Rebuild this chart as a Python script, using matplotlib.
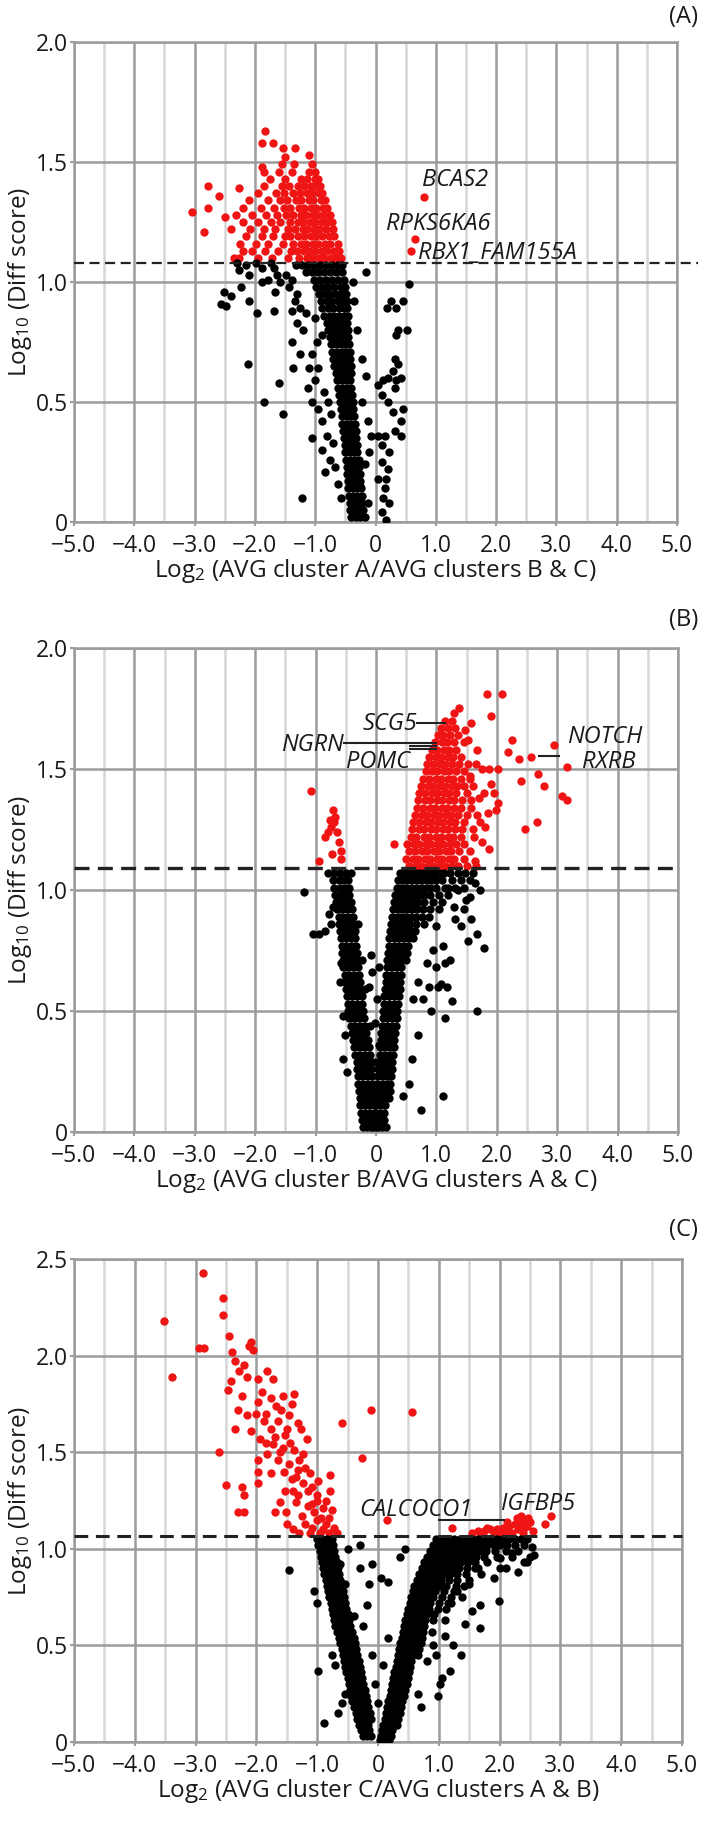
import numpy as np
import matplotlib
matplotlib.use("Agg")
import matplotlib.pyplot as plt

plt.rcParams['font.family'] = ['Open Sans', 'DejaVu Sans']
plt.rcParams['mathtext.default'] = 'regular'

# ---------------- panel A ----------------
# dense parts are typed row by row: (y, [x, x, ...])
a_red_rows = [
    (1.10, [-2.35, -2.27, -1.95, -1.72, -1.45, -1.27, -1.14, -1.06, -0.94, -0.86, -0.74, -0.66, -0.57]),
    (1.13, [-2.20, -2.05, -1.83, -1.62, -1.40, -1.31, -1.19, -1.11, -1.01, -0.89, -0.81, -0.69, -0.60]),
    (1.16, [-2.25, -1.98, -1.78, -1.53, -1.36, -1.24, -1.16, -1.04, -0.96, -0.84, -0.76, -0.63]),
    (1.19, [-2.15, -1.88, -1.70, -1.50, -1.41, -1.28, -1.19, -1.07, -0.98, -0.89, -0.77, -0.68]),
    (1.22, [-2.40, -2.08, -1.85, -1.66, -1.45, -1.33, -1.21, -1.13, -1.02, -0.93, -0.82, -0.71]),
    (1.25, [-2.20, -1.95, -1.74, -1.58, -1.42, -1.29, -1.21, -1.09, -1.01, -0.89, -0.81, -0.72]),
    (1.28, [-2.32, -2.05, -1.82, -1.63, -1.48, -1.36, -1.24, -1.16, -1.04, -0.96, -0.85, -0.76]),
    (1.31, [-2.20, -1.90, -1.69, -1.52, -1.41, -1.27, -1.19, -1.07, -0.99, -0.87, -0.80]),
    (1.34, [-2.10, -1.78, -1.58, -1.46, -1.32, -1.23, -1.11, -1.03, -0.91, -0.84]),
    (1.37, [-1.95, -1.65, -1.51, -1.37, -1.26, -1.14, -1.06, -0.94, -0.88]),
    (1.40, [-1.85, -1.55, -1.43, -1.29, -1.19, -1.07, -0.99, -0.92]),
    (1.43, [-1.75, -1.50, -1.24, -1.13, -1.01, -0.95]),
    (1.46, [-1.85, -1.60, -1.39, -1.11, -1.00]),
    (1.49, [-1.55, -1.35, -1.05]),
]
a_red_pts = [
    (-3.04, 1.29), (-2.78, 1.40), (-2.78, 1.31), (-2.84, 1.21), (-2.60, 1.36),
    (-2.27, 1.39), (-2.50, 1.27), (-1.83, 1.63), (-1.88, 1.58), (-1.70, 1.58),
    (-1.54, 1.56), (-1.33, 1.56), (-1.11, 1.53), (-1.88, 1.48), (-1.50, 1.52),
    (0.80, 1.356), (0.65, 1.18), (0.59, 1.13),
]
a_black_rows = [
    (1.07, [-1.32, -1.22, -1.12, -1.02, -0.92, -0.82, -0.72, -0.62, -0.55]),
    (1.04, [-1.15, -1.05, -0.95, -0.85, -0.75, -0.65, -0.56]),
    (1.01, [-1.02, -0.92, -0.82, -0.72, -0.62, -0.53]),
    (0.98, [-0.98, -0.88, -0.78, -0.68, -0.58, -0.50]),
    (0.95, [-0.93, -0.84, -0.75, -0.66, -0.57, -0.49]),
    (0.92, [-0.90, -0.81, -0.72, -0.63, -0.55, -0.48]),
    (0.89, [-0.88, -0.79, -0.70, -0.61, -0.53, -0.47]),
    (0.86, [-0.85, -0.76, -0.68, -0.60, -0.52, -0.46]),
    (0.83, [-0.80, -0.72, -0.64, -0.56, -0.48]),
    (0.80, [-0.78, -0.70, -0.62, -0.54, -0.46]),
    (0.77, [-0.76, -0.68, -0.60, -0.52, -0.45]),
    (0.74, [-0.74, -0.66, -0.58, -0.50, -0.44]),
    (0.71, [-0.72, -0.64, -0.56, -0.49, -0.43]),
    (0.68, [-0.70, -0.62, -0.54, -0.47, -0.42]),
    (0.65, [-0.68, -0.60, -0.53, -0.46, -0.41]),
    (0.62, [-0.66, -0.58, -0.51, -0.44, -0.40]),
    (0.59, [-0.64, -0.56, -0.49, -0.42]),
    (0.56, [-0.62, -0.55, -0.48, -0.41]),
    (0.53, [-0.60, -0.53, -0.46, -0.39]),
    (0.50, [-0.59, -0.52, -0.45, -0.38]),
    (0.47, [-0.58, -0.51, -0.44, -0.37]),
    (0.44, [-0.56, -0.49, -0.42, -0.36]),
    (0.41, [-0.55, -0.48, -0.41, -0.34]),
    (0.38, [-0.54, -0.47, -0.40, -0.33]),
    (0.35, [-0.52, -0.45, -0.38, -0.32]),
    (0.32, [-0.51, -0.44, -0.37, -0.31]),
    (0.29, [-0.50, -0.43, -0.36, -0.30]),
    (0.26, [-0.49, -0.42, -0.35, -0.28]),
    (0.23, [-0.48, -0.41, -0.34, -0.27]),
    (0.20, [-0.47, -0.40, -0.33, -0.26]),
    (0.17, [-0.46, -0.39, -0.32, -0.25]),
    (0.14, [-0.45, -0.38, -0.31, -0.24]),
    (0.11, [-0.44, -0.37, -0.30, -0.23]),
    (0.08, [-0.43, -0.36, -0.29, -0.22]),
    (0.05, [-0.42, -0.35, -0.28, -0.20]),
    (0.02, [-0.40, -0.33, -0.26, -0.18]),
]
a_black_pts = [
    (-2.30, 1.08), (-2.26, 1.05), (-2.15, 1.07), (-2.10, 1.03), (-1.99, 1.08),
    (-1.88, 1.06), (-1.79, 1.01), (-1.74, 1.08), (-1.68, 1.06), (-1.63, 1.03),
    (-1.58, 1.00), (-1.49, 1.03), (-1.44, 0.98), (-1.38, 1.01), (-1.30, 0.95),
    (-1.33, 0.92), (-1.25, 0.89), (-2.51, 0.96), (-2.56, 0.91), (-2.48, 0.90),
    (-2.40, 0.94), (-2.23, 0.98), (-2.10, 0.92), (-1.88, 1.00), (-1.66, 0.96),
    (-1.96, 0.87), (-1.68, 0.88), (-1.38, 0.88), (-1.30, 0.83), (-1.38, 0.75),
    (-1.36, 0.64), (-2.12, 0.66), (-1.85, 0.50), (-1.54, 0.45), (-1.22, 0.10),
    (-1.60, 0.58), (-1.12, 0.56), (-1.21, 0.80), (-1.16, 0.87), (-1.05, 0.70),
    (-1.11, 0.64), (-1.25, 0.70), (-1.00, 0.59), (-1.05, 0.50), (-0.95, 0.47),
    (-0.89, 0.42), (-0.81, 0.36), (-0.89, 0.30), (-0.75, 0.26), (-0.67, 0.23),
    (-0.84, 0.21), (-1.05, 0.35), (-1.00, 0.85), (-0.89, 0.78), (-0.97, 0.75),
    (-0.95, 0.64), (-0.86, 0.54), (-0.78, 0.50), (-0.73, 0.45), (-0.70, 0.33),
    (-0.62, 0.16), (-0.58, 0.10),
    (-0.15, 1.04), (-0.23, 0.68), (-0.15, 0.61), (-0.12, 0.42), (-0.07, 0.36),
    (-0.10, 0.29), (-0.18, 0.24), (-0.23, 0.50), (-0.26, 0.15), (-0.12, 0.08),
    (-0.30, 0.80), (-0.35, 0.92), (-0.38, 1.00),
    (0.55, 0.99), (0.45, 0.92), (0.34, 0.89), (0.19, 0.89), (0.25, 0.92),
    (0.52, 0.80), (0.38, 0.80), (0.34, 0.78), (0.32, 0.68), (0.37, 0.66),
    (0.29, 0.63), (0.21, 0.60), (0.12, 0.59), (0.04, 0.57), (0.10, 0.53),
    (0.34, 0.59), (0.42, 0.60), (0.32, 0.56), (0.21, 0.50), (0.29, 0.46),
    (0.42, 0.42), (0.32, 0.38), (0.15, 0.36), (0.10, 0.32), (0.23, 0.29),
    (0.10, 0.25), (0.21, 0.22), (0.18, 0.18), (0.15, 0.14), (0.23, 0.08),
    (0.18, 0.01), (0.10, 0.04), (0.04, 0.36), (0.42, 0.36), (0.45, 0.47),
    (0.12, 0.10), (0.04, 0.18),
]
a_labels = [("BCAS2", 0.77, 1.425, "left"), ("RPKS6KA6", 0.17, 1.24, "left"),
            ("RBX1_FAM155A", 0.70, 1.12, "left")]
a_lines = []

# ---------------- panel B ----------------
b_red_rows = [
    (1.10, [0.55, 0.66, 0.74, 0.86, 0.94, 1.06, 1.14, 1.26, 1.35, 1.50, 1.65]),
    (1.13, [0.50, 0.61, 0.69, 0.81, 0.89, 1.01, 1.09, 1.21, 1.29, 1.45]),
    (1.16, [0.55, 0.64, 0.76, 0.84, 0.96, 1.04, 1.16, 1.24, 1.38, 1.55]),
    (1.19, [0.52, 0.63, 0.71, 0.83, 0.91, 1.03, 1.11, 1.23, 1.32, 1.45]),
    (1.22, [0.58, 0.67, 0.79, 0.87, 0.99, 1.07, 1.19, 1.27, 1.40]),
    (1.25, [0.60, 0.71, 0.79, 0.91, 0.99, 1.11, 1.19, 1.31, 1.42, 1.60]),
    (1.28, [0.62, 0.71, 0.83, 0.91, 1.03, 1.11, 1.23, 1.31, 1.45]),
    (1.31, [0.65, 0.76, 0.84, 0.96, 1.04, 1.16, 1.24, 1.36, 1.50, 1.68]),
    (1.34, [0.68, 0.77, 0.89, 0.97, 1.09, 1.17, 1.29, 1.40]),
    (1.37, [0.70, 0.81, 0.89, 1.01, 1.09, 1.21, 1.29, 1.42, 1.58]),
    (1.40, [0.72, 0.81, 0.93, 1.01, 1.13, 1.21, 1.33, 1.50]),
    (1.43, [0.75, 0.86, 0.94, 1.06, 1.14, 1.26, 1.34, 1.45]),
    (1.46, [0.78, 0.87, 0.99, 1.07, 1.19, 1.27, 1.40, 1.55]),
    (1.49, [0.82, 0.93, 1.01, 1.13, 1.21, 1.33, 1.45]),
    (1.52, [0.85, 0.94, 1.06, 1.14, 1.26, 1.38, 1.52]),
    (1.55, [0.88, 0.99, 1.07, 1.19, 1.27, 1.40]),
    (1.58, [0.92, 1.01, 1.13, 1.21, 1.32]),
    (1.61, [0.98, 1.09, 1.17, 1.29, 1.45]),
    (1.64, [1.02, 1.11, 1.23, 1.35]),
    (1.67, [1.08, 1.19, 1.30]),
    (1.70, [1.15, 1.25]),
]
b_red_pts = [
    (1.29, 1.73), (1.37, 1.75), (1.58, 1.69), (1.84, 1.81), (2.09, 1.81),
    (1.90, 1.72), (2.25, 1.62), (2.19, 1.57), (2.37, 1.54), (2.57, 1.55),
    (2.69, 1.48), (2.95, 1.60), (3.16, 1.51), (2.78, 1.43), (3.08, 1.39),
    (3.16, 1.37), (2.40, 1.45), (2.46, 1.25), (2.66, 1.28), (1.87, 1.50),
    (2.02, 1.50), (1.90, 1.44), (2.02, 1.36), (1.99, 1.33), (1.87, 1.17),
    (1.64, 1.12), (1.70, 1.38), (1.75, 1.50), (1.65, 1.52), (1.60, 1.43),
    (1.78, 1.40), (1.72, 1.28), (0.30, 1.19),
    (1.75, 1.20), (1.80, 1.26), (1.85, 1.32), (1.62, 1.22), (1.58, 1.34),
    (1.95, 1.40), (1.68, 1.58), (1.52, 1.62), (1.48, 1.66), (1.55, 1.47),
    (-1.08, 1.41), (-0.71, 1.33), (-0.76, 1.29), (-0.70, 1.28), (-0.84, 1.22),
    (-0.64, 1.24), (-0.61, 1.20), (-0.58, 1.16), (-0.73, 1.15), (-0.94, 1.12),
    (-0.58, 1.13), (-0.75, 1.26), (-0.80, 1.24), (-0.68, 1.30),
]
b_black_rows = [
    # left arm
    (1.07, [-0.80, -0.70, -0.60, -0.50, -0.42]),
    (1.04, [-0.72, -0.62, -0.54, -0.46]),
    (1.01, [-0.70, -0.60, -0.52, -0.45]),
    (0.98, [-0.68, -0.60, -0.52, -0.44]),
    (0.95, [-0.66, -0.58, -0.50, -0.42]),
    (0.92, [-0.64, -0.56, -0.48, -0.40]),
    (0.89, [-0.62, -0.54, -0.46, -0.38]),
    (0.86, [-0.62, -0.53, -0.44, -0.36, -0.30]),
    (0.83, [-0.60, -0.52, -0.43, -0.35]),
    (0.80, [-0.58, -0.50, -0.42, -0.34]),
    (0.77, [-0.57, -0.49, -0.41, -0.33]),
    (0.74, [-0.56, -0.48, -0.40, -0.32]),
    (0.71, [-0.55, -0.47, -0.39, -0.31, -0.24]),
    (0.68, [-0.54, -0.46, -0.38, -0.30]),
    (0.65, [-0.52, -0.44, -0.36, -0.28]),
    (0.62, [-0.51, -0.43, -0.35, -0.27]),
    (0.59, [-0.50, -0.42, -0.34, -0.26, -0.18]),
    (0.56, [-0.48, -0.40, -0.32, -0.24]),
    (0.53, [-0.47, -0.39, -0.31, -0.23]),
    (0.50, [-0.46, -0.38, -0.30, -0.22]),
    (0.47, [-0.44, -0.36, -0.28, -0.20]),
    (0.44, [-0.42, -0.34, -0.26, -0.18, -0.10]),
    (0.41, [-0.40, -0.32, -0.24, -0.16]),
    (0.38, [-0.38, -0.30, -0.22, -0.14]),
    (0.35, [-0.36, -0.28, -0.20, -0.12]),
    (0.32, [-0.34, -0.26, -0.18, -0.10]),
    (0.29, [-0.32, -0.25, -0.17, -0.09, -0.02]),
    (0.26, [-0.31, -0.24, -0.16, -0.08]),
    (0.23, [-0.30, -0.23, -0.15, -0.07]),
    (0.20, [-0.29, -0.22, -0.14, -0.06]),
    (0.17, [-0.28, -0.21, -0.13, -0.05]),
    (0.14, [-0.27, -0.20, -0.12, -0.04]),
    (0.11, [-0.26, -0.19, -0.11, -0.03]),
    (0.08, [-0.25, -0.18, -0.10, -0.02]),
    (0.05, [-0.24, -0.17, -0.09, -0.01]),
    (0.02, [-0.22, -0.15, -0.08, 0.00]),
    # right arm
    (1.07, [0.40, 0.48, 0.56, 0.64, 0.72, 0.80, 0.88, 0.96, 1.04, 1.12, 1.22, 1.35, 1.48, 1.60]),
    (1.04, [0.36, 0.44, 0.52, 0.60, 0.68, 0.76, 0.84, 0.92, 1.00, 1.10, 1.25, 1.40, 1.55]),
    (1.01, [0.34, 0.42, 0.50, 0.58, 0.66, 0.74, 0.82, 0.90, 1.00, 1.15, 1.30, 1.45]),
    (0.98, [0.32, 0.40, 0.48, 0.56, 0.64, 0.72, 0.80, 0.90, 1.05, 1.20]),
    (0.95, [0.30, 0.38, 0.46, 0.54, 0.62, 0.70, 0.80, 0.95, 1.10]),
    (0.92, [0.28, 0.36, 0.44, 0.52, 0.60, 0.68, 0.78, 0.90]),
    (0.89, [0.26, 0.34, 0.42, 0.50, 0.58, 0.66, 0.76, 0.88]),
    (0.86, [0.25, 0.33, 0.41, 0.49, 0.57, 0.66, 0.80]),
    (0.83, [0.24, 0.32, 0.40, 0.48, 0.56, 0.64]),
    (0.80, [0.22, 0.30, 0.38, 0.46, 0.54, 0.62]),
    (0.77, [0.21, 0.29, 0.37, 0.45, 0.53]),
    (0.74, [0.20, 0.28, 0.36, 0.44, 0.52]),
    (0.71, [0.19, 0.27, 0.35, 0.43, 0.50]),
    (0.68, [0.18, 0.26, 0.34, 0.42]),
    (0.65, [0.17, 0.25, 0.33, 0.41]),
    (0.62, [0.16, 0.24, 0.32, 0.40]),
    (0.59, [0.15, 0.23, 0.31, 0.39]),
    (0.56, [0.14, 0.22, 0.30, 0.38]),
    (0.53, [0.13, 0.21, 0.29, 0.36]),
    (0.50, [0.12, 0.20, 0.28, 0.35]),
    (0.47, [0.11, 0.19, 0.27, 0.34]),
    (0.44, [0.10, 0.18, 0.26, 0.33]),
    (0.41, [0.09, 0.17, 0.25, 0.32]),
    (0.38, [0.08, 0.16, 0.24, 0.30]),
    (0.35, [0.07, 0.15, 0.23, 0.29]),
    (0.32, [0.06, 0.14, 0.22, 0.28]),
    (0.29, [0.05, 0.13, 0.21, 0.27]),
    (0.26, [0.04, 0.12, 0.20, 0.26]),
    (0.23, [0.03, 0.11, 0.19, 0.25]),
    (0.20, [0.02, 0.10, 0.18, 0.24]),
    (0.17, [0.01, 0.09, 0.17, 0.23]),
    (0.14, [0.00, 0.08, 0.16, 0.22]),
    (0.11, [0.00, 0.07, 0.15]),
    (0.08, [-0.01, 0.06, 0.14]),
    (0.05, [-0.02, 0.05, 0.13]),
    (0.02, [-0.05, 0.03, 0.10, 0.16]),
]
b_black_pts = [
    (-1.20, 0.99), (-1.05, 0.82), (-0.95, 0.82), (-0.85, 0.83), (-0.78, 0.90),
    (-0.72, 0.93), (-0.75, 0.86), (1.11, 0.15), (0.75, 0.09), (1.67, 0.50),
    (1.26, 0.54), (1.14, 0.47), (0.91, 0.50), (0.88, 0.60), (1.78, 0.76),
    (1.67, 0.82), (1.52, 0.79), (1.23, 0.71), (1.11, 0.77), (1.40, 0.85),
    (1.58, 0.88), (1.73, 1.00), (1.64, 1.03), (1.49, 0.96), (1.29, 0.93),
    (1.35, 1.00), (1.20, 1.01), (1.30, 0.88), (1.45, 0.92), (1.00, 0.85),
    (1.05, 0.92), (0.95, 0.75), (1.00, 0.68), (0.85, 0.70), (-0.09, 0.73),
    (-0.06, 0.66), (0.05, 0.68), (-0.12, 0.60), (0.02, 0.55), (-0.02, 0.45),
    (0.05, 0.36), (1.02, 0.60), (0.70, 0.40), (0.60, 0.30), (0.55, 0.20),
    (0.45, 0.15), (0.62, 0.55), (0.70, 0.62), (0.78, 0.55), (1.18, 0.60),
    (1.55, 0.97), (-0.52, 0.40), (-0.55, 0.48), (-0.55, 0.30), (-0.48, 0.25),
    (-0.60, 0.62), (-0.58, 0.70), (1.07, 0.61), (1.14, 0.70),
]
b_labels = [("SCG5", 0.68, 1.687, "right"), ("NGRN", -0.53, 1.60, "right"),
            ("POMC", 0.56, 1.53, "right"), ("NOTCH", 3.16, 1.634, "left"),
            ("RXRB", 3.41, 1.528, "left")]
b_lines = [((0.68, 1.15), (1.69, 1.69)), ((-0.53, 0.99), (1.608, 1.608)),
           ((0.56, 0.99), (1.594, 1.594)), ((0.56, 0.99), (1.582, 1.582)),
           ((2.70, 3.03), (1.555, 1.555))]

# ---------------- panel C ----------------
c_red_pts = [
    (-2.88, 2.43), (-2.55, 2.30), (-2.55, 2.21), (-3.52, 2.18), (-2.45, 2.10),
    (-2.94, 2.04), (-2.87, 2.04), (-3.39, 1.89), (-2.40, 2.02), (-2.09, 2.07),
    (-2.05, 2.03), (-2.12, 2.05), (-2.35, 1.97), (-2.20, 1.95), (-2.28, 1.92),
    (-2.42, 1.87), (-2.16, 1.89), (-1.98, 1.88), (-1.83, 1.92), (-1.72, 1.88),
    (-1.90, 1.81), (-1.76, 1.78), (-1.57, 1.79), (-1.38, 1.80), (-2.46, 1.82),
    (-2.24, 1.79), (-1.98, 1.76), (-1.68, 1.74), (-1.42, 1.75), (-2.31, 1.72),
    (-2.16, 1.69), (-1.87, 1.66), (-1.64, 1.66), (-1.46, 1.69), (-1.31, 1.65),
    (-2.35, 1.62), (-2.09, 1.61), (-1.76, 1.62), (-1.53, 1.59), (-1.27, 1.62),
    (-1.16, 1.57), (-1.94, 1.57), (-1.72, 1.54), (-1.57, 1.52), (-1.38, 1.51),
    (-1.24, 1.49), (-1.83, 1.49), (-1.64, 1.46), (-1.46, 1.44), (-1.31, 1.41),
    (-1.12, 1.39), (-1.98, 1.46), (-1.98, 1.40), (-1.76, 1.39), (-1.42, 1.36),
    (-1.24, 1.34), (-1.09, 1.32), (-1.98, 1.34), (-2.24, 1.32), (-2.50, 1.33),
    (-2.20, 1.28), (-1.53, 1.30), (-1.31, 1.28), (-1.01, 1.28), (-0.79, 1.30),
    (-0.79, 1.38), (-1.61, 1.24), (-1.35, 1.24), (-1.09, 1.23), (-0.90, 1.21),
    (-2.30, 1.19), (-2.20, 1.19), (-1.70, 1.19), (-1.52, 1.19), (-1.05, 1.19),
    (-0.94, 1.16), (-0.80, 1.16), (-1.01, 1.15), (-1.09, 1.11), (-0.86, 1.13),
    (-0.72, 1.11), (-1.12, 1.08), (-0.68, 1.08), (-0.90, 1.10), (-0.80, 1.08),
    (-0.95, 1.08), (-1.20, 1.13), (-1.00, 1.25), (-0.85, 1.25), (-1.15, 1.22),
    (-1.25, 1.17), (-1.40, 1.10), (-1.50, 1.13), (-1.30, 1.08), (-0.75, 1.20),
    (-1.85, 1.70), (-1.60, 1.72), (-2.00, 1.70), (-1.50, 1.62), (-1.70, 1.58),
    (-1.45, 1.55), (-1.85, 1.55), (-1.62, 1.50), (-1.30, 1.46), (-1.20, 1.42),
    (-1.55, 1.40), (-1.35, 1.37), (-1.15, 1.30), (-1.40, 1.30), (-0.98, 1.35),
    (-2.61, 1.50), (-0.60, 1.65), (-0.12, 1.72), (0.56, 1.71), (-0.27, 1.47),
    (0.14, 1.15), (1.21, 1.11),
    (1.55, 1.08), (1.65, 1.09), (1.75, 1.09), (1.85, 1.10), (1.95, 1.10),
    (2.05, 1.11), (2.15, 1.12), (2.25, 1.13), (2.35, 1.14), (2.42, 1.15),
    (2.47, 1.16), (1.70, 1.08), (1.90, 1.08), (2.10, 1.09), (2.30, 1.10),
    (2.40, 1.11), (2.20, 1.08), (2.00, 1.085), (2.45, 1.12), (2.35, 1.17),
    (2.50, 1.14), (2.28, 1.16), (1.80, 1.11), (2.12, 1.14), (2.75, 1.13),
    (2.84, 1.17), (2.55, 1.09), (2.38, 1.08),
]
c_black_rows = [
    # left arm
    (1.05, [-1.00, -0.92, -0.84, -0.76]),
    (1.02, [-0.98, -0.90, -0.82, -0.74]),
    (0.99, [-0.96, -0.88, -0.80, -0.72]),
    (0.96, [-0.94, -0.86, -0.78, -0.70]),
    (0.93, [-0.92, -0.84, -0.76, -0.68]),
    (0.90, [-0.90, -0.82, -0.74, -0.66]),
    (0.87, [-0.88, -0.80, -0.72, -0.64]),
    (0.84, [-0.86, -0.78, -0.70, -0.62]),
    (0.81, [-0.84, -0.76, -0.68, -0.60]),
    (0.78, [-0.82, -0.74, -0.66, -0.58]),
    (0.75, [-0.80, -0.72, -0.64, -0.56]),
    (0.72, [-0.78, -0.70, -0.62, -0.54]),
    (0.69, [-0.76, -0.68, -0.60, -0.52]),
    (0.66, [-0.74, -0.66, -0.58, -0.50]),
    (0.63, [-0.72, -0.64, -0.56, -0.48]),
    (0.60, [-0.70, -0.62, -0.54, -0.46]),
    (0.57, [-0.67, -0.59, -0.51, -0.43]),
    (0.54, [-0.64, -0.56, -0.48, -0.40]),
    (0.51, [-0.62, -0.54, -0.46, -0.38]),
    (0.48, [-0.60, -0.52, -0.44, -0.36]),
    (0.45, [-0.58, -0.50, -0.42, -0.34]),
    (0.42, [-0.56, -0.48, -0.40, -0.32]),
    (0.39, [-0.54, -0.46, -0.38, -0.30]),
    (0.36, [-0.52, -0.44, -0.36, -0.28]),
    (0.33, [-0.50, -0.42, -0.34, -0.26]),
    (0.30, [-0.48, -0.40, -0.32, -0.24]),
    (0.27, [-0.46, -0.38, -0.30, -0.22]),
    (0.24, [-0.44, -0.36, -0.28, -0.20]),
    (0.21, [-0.42, -0.34, -0.26, -0.18]),
    (0.18, [-0.40, -0.32, -0.24, -0.16]),
    (0.15, [-0.37, -0.29, -0.21, -0.13]),
    (0.12, [-0.34, -0.26, -0.18, -0.11]),
    (0.09, [-0.31, -0.23, -0.16]),
    (0.06, [-0.28, -0.21, -0.14]),
    (0.03, [-0.25, -0.18, -0.12]),
    # right arm
    (1.05, [0.95, 1.05, 1.15, 1.25, 1.35, 1.45, 1.55, 1.65, 1.75, 1.85, 1.95, 2.05, 2.15, 2.25, 2.35, 2.45]),
    (1.02, [0.90, 1.00, 1.10, 1.20, 1.30, 1.40, 1.50, 1.60, 1.70, 1.80, 1.90, 2.00, 2.12, 2.25, 2.40]),
    (0.99, [0.86, 0.96, 1.06, 1.16, 1.26, 1.36, 1.46, 1.56, 1.66, 1.78, 1.92, 2.10, 2.30]),
    (0.96, [0.80, 0.90, 1.00, 1.10, 1.20, 1.30, 1.40, 1.50, 1.62, 1.75, 1.95, 2.20, 2.50]),
    (0.93, [0.76, 0.86, 0.96, 1.06, 1.16, 1.26, 1.36, 1.48, 1.60, 1.80, 2.40]),
    (0.90, [0.72, 0.82, 0.92, 1.02, 1.12, 1.22, 1.34, 1.46, 1.65, 2.00]),
    (0.87, [0.68, 0.78, 0.88, 0.98, 1.08, 1.18, 1.30, 1.45, 1.70]),
    (0.84, [0.64, 0.74, 0.84, 0.94, 1.04, 1.16, 1.30, 1.50]),
    (0.81, [0.60, 0.70, 0.80, 0.90, 1.00, 1.12, 1.28, 1.42]),
    (0.78, [0.57, 0.66, 0.75, 0.84, 0.94, 1.08, 1.25]),
    (0.75, [0.54, 0.63, 0.72, 0.81, 0.90, 1.05, 1.20, 1.38]),
    (0.72, [0.52, 0.60, 0.68, 0.76, 0.86, 1.00, 1.15]),
    (0.69, [0.50, 0.58, 0.66, 0.74, 0.84, 0.98, 1.12]),
    (0.66, [0.47, 0.55, 0.63, 0.71, 0.80, 0.92]),
    (0.63, [0.45, 0.53, 0.61, 0.69, 0.78, 0.90, 1.10]),
    (0.60, [0.43, 0.51, 0.59, 0.67, 0.76]),
    (0.57, [0.41, 0.49, 0.57, 0.65, 0.74, 0.88]),
    (0.54, [0.39, 0.47, 0.55, 0.63, 0.72]),
    (0.51, [0.37, 0.45, 0.53, 0.61, 0.70]),
    (0.48, [0.35, 0.43, 0.51, 0.59, 0.68]),
    (0.45, [0.33, 0.41, 0.49, 0.57, 0.65]),
    (0.42, [0.31, 0.39, 0.47, 0.55]),
    (0.39, [0.29, 0.37, 0.45, 0.53]),
    (0.36, [0.27, 0.35, 0.43, 0.51]),
    (0.33, [0.25, 0.33, 0.41, 0.49]),
    (0.30, [0.23, 0.31, 0.39, 0.47]),
    (0.27, [0.21, 0.29, 0.37, 0.45]),
    (0.24, [0.19, 0.27, 0.35, 0.43]),
    (0.21, [0.17, 0.25, 0.33, 0.40]),
    (0.18, [0.15, 0.23, 0.31, 0.38]),
    (0.15, [0.13, 0.21, 0.29, 0.36]),
    (0.12, [0.11, 0.19, 0.27, 0.33]),
    (0.09, [0.09, 0.17, 0.25, 0.31]),
    (0.06, [0.07, 0.15, 0.23]),
    (0.03, [0.05, 0.13, 0.21]),
    (0.01, [0.03, 0.10, 0.18]),
]
c_black_pts = [
    (-1.47, 0.89), (-0.99, 0.37), (-0.88, 0.10), (0.17, 0.83), (0.36, 0.96),
    (-0.14, 0.82), (-0.18, 0.71), (0.08, 0.40), (0.17, 0.54), (1.36, 0.45),
    (1.68, 0.59), (1.99, 0.73), (1.68, 0.71), (1.43, 0.61), (1.24, 0.50),
    (2.56, 0.97), (2.53, 1.01), (1.05, 0.33), (1.18, 0.37), (1.02, 0.30),
    (0.99, 0.24), (-0.55, 0.82), (-1.05, 0.78), (-1.00, 0.72), (-0.62, 0.92),
    (-0.50, 1.00), (-0.30, 0.90), (-0.10, 0.92), (0.05, 0.85), (-0.25, 0.60),
    (-0.40, 0.65), (-0.10, 0.45), (-0.05, 0.30), (0.00, 0.20), (-0.55, 0.25),
    (-0.60, 0.20), (-0.65, 0.15), (-0.70, 0.40), (-0.75, 0.45), (0.65, 0.25),
    (0.70, 0.18), (0.80, 0.42), (1.20, 0.72), (1.30, 0.78), (1.50, 0.82),
    (1.60, 0.90), (1.90, 0.85), (2.10, 0.90), (2.30, 0.88), (2.45, 0.93),
    (2.20, 0.98), (2.00, 0.95), (1.75, 0.98), (1.55, 0.68), (0.90, 0.50),
    (0.95, 0.45), (1.10, 0.55), (-0.30, 1.02), (0.45, 1.00),
]
c_labels = [("CALCOCO1", -0.31, 1.20, "left"), ("IGFBP5", 2.02, 1.23, "left")]
c_lines = [((1.00, 2.08), (1.147, 1.147))]


def expand(rows):
    xs, ys = [], []
    for y, row in rows:
        xs += row
        ys += [y] * len(row)
    return xs, ys


def pts(lst):
    return [p[0] for p in lst], [p[1] for p in lst]


fig = plt.figure(figsize=(7.09, 18.21), dpi=100)
W, H = 709.0, 1821.0

panels = [
    dict(box=(74, 42, 677, 522), ymax=2.0, thr=1.08, dlw=1.6, tag="(A)", tag_y=17,
         xlabel="Log$_2$ (AVG cluster A/AVG clusters B & C)",
         red=(a_red_rows, a_red_pts), black=(a_black_rows, a_black_pts),
         labels=a_labels, lines=a_lines, dash_ext=5.35),
    dict(box=(74, 648, 678, 1132), ymax=2.0, thr=1.09, dlw=2.4, tag="(B)", tag_y=620,
         xlabel="Log$_2$ (AVG cluster B/AVG clusters A & C)",
         red=(b_red_rows, b_red_pts), black=(b_black_rows, b_black_pts),
         labels=b_labels, lines=b_lines, dash_ext=5.0),
    dict(box=(74, 1259, 682, 1742), ymax=2.5, thr=1.065, dlw=2.2, tag="(C)", tag_y=1230,
         xlabel="Log$_2$ (AVG cluster C/AVG clusters A & B)",
         red=([], c_red_pts), black=(c_black_rows, c_black_pts),
         labels=c_labels, lines=c_lines, dash_ext=5.0),
]

x_major = np.arange(-5, 6, 1.0)
x_minor = np.arange(-4.5, 5, 1.0)
x_labels = ["\u22125.0", "\u22124.0", "\u22123.0", "\u22122.0", "\u22121.0", "0",
            "1.0", "2.0", "3.0", "4.0", "5.0"]

for p in panels:
    l, t, r, b = p["box"]
    ax = fig.add_axes([l / W, 1 - b / H, (r - l) / W, (b - t) / H])
    ax.set_xlim(-5, 5)
    ax.set_ylim(0, p["ymax"])
    ax.set_axisbelow(True)

    ax.set_xticks(x_major)
    ax.set_xticklabels(x_labels)
    ax.set_xticks(x_minor, minor=True)
    yt = np.arange(0, p["ymax"] + 0.01, 0.5)
    ax.set_yticks(yt)
    ax.set_yticklabels(["0"] + ["%.1f" % v for v in yt[1:]])

    ax.grid(which="major", axis="x", color="#9c9c9c", lw=1.8)
    ax.grid(which="minor", axis="x", color="#d6d6d6", lw=1.8)
    ax.grid(which="major", axis="y", color="#9c9c9c", lw=1.8)
    for s in ax.spines.values():
        s.set_color("#9c9c9c")
        s.set_linewidth(1.8)
    ax.tick_params(which="major", length=3, width=1.5, color="#9c9c9c",
                   labelsize=16.5, labelcolor="#1a1a1a")
    ax.tick_params(axis="x", which="major", pad=6)
    ax.tick_params(axis="y", which="major", pad=1.5)
    ax.tick_params(which="minor", length=0)

    rx, ry = expand(p["red"][0])
    ex, ey = pts(p["red"][1])
    ax.scatter(rx + ex, ry + ey, s=36, c="#f01515", linewidths=0, zorder=3)
    bx, by = expand(p["black"][0])
    ex, ey = pts(p["black"][1])
    ax.scatter(bx + ex, by + ey, s=36, c="black", linewidths=0, zorder=4)

    ax.plot([-5, p["dash_ext"]], [p["thr"], p["thr"]], color="#222222",
            lw=p["dlw"], ls=(0, (4.5, 2.5)), zorder=5, clip_on=False)

    for (xs, ys) in p["lines"]:
        ax.plot(xs, ys, color="#222222", lw=1.5, zorder=6)
    for txt, x, y, ha in p["labels"]:
        ax.text(x, y, txt, ha=ha, va="center", fontsize=17, style="italic",
                color="#1a1a1a", zorder=7)

    ax.set_xlabel(p["xlabel"], fontsize=17.5, labelpad=-1, color="#1a1a1a")
    ax.set_ylabel("Log$_{10}$ (Diff score)", fontsize=17.5, labelpad=1, color="#1a1a1a")
    fig.text(698 / W, 1 - p["tag_y"] / H, p["tag"], ha="right", va="center",
             fontsize=17, color="#1a1a1a")

fig.savefig("out.png", dpi=100)
